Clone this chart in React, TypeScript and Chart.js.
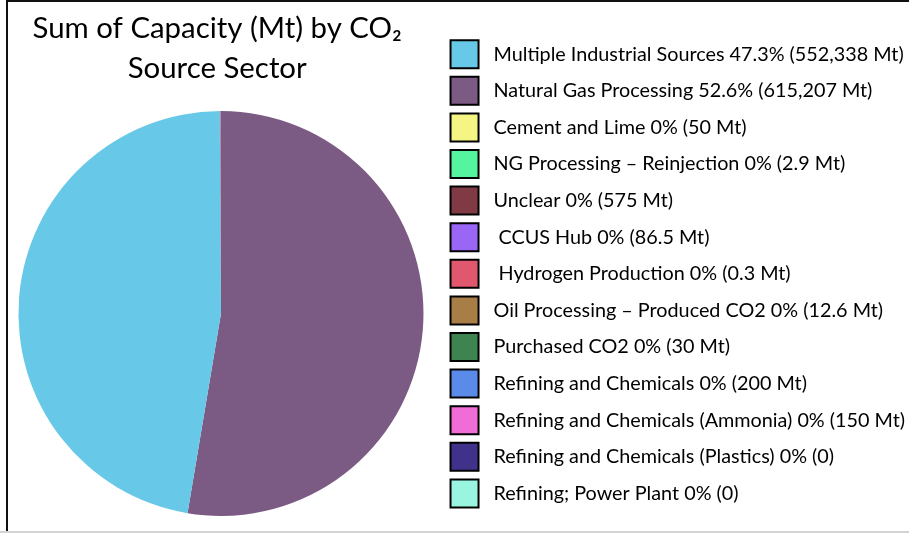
import React, { useEffect, useRef } from "react";
import { Chart, registerables } from "chart.js";

Chart.register(...registerables);

// ---- Data (legend order) ----
const categories = [
  "Multiple Industrial Sources",
  "Natural Gas Processing",
  "Cement and Lime",
  "NG Processing – Reinjection",
  "Unclear",
  " CCUS Hub",
  " Hydrogen Production",
  "Oil Processing – Produced CO2",
  "Purchased CO2",
  "Refining and Chemicals",
  "Refining and Chemicals (Ammonia)",
  "Refining and Chemicals (Plastics)",
  "Refining; Power Plant",
];
const capacityMt = [552338, 615207, 50, 2.9, 575, 86.5, 0.3, 12.6, 30, 200, 150, 0, 0];
const sliceColors = [
  "#67C8E8",
  "#7B5A84",
  "#F5F583",
  "#55F5A0",
  "#7F3A44",
  "#9966F5",
  "#E0586E",
  "#A87D46",
  "#3E8450",
  "#5B8BE8",
  "#F06DD8",
  "#40318A",
  "#99F5DF",
];
// order in which slices are drawn clockwise from the top
const pieOrder = [1, 0, 2, 3, 4, 5, 6, 7, 8, 9, 10, 11, 12];
const titleLines = ["Sum of Capacity (Mt) by CO₂ ", "Source Sector "];

const FONT = "Lato, 'Open Sans', sans-serif";

function pctText(v: number, total: number) {
  const p = Math.round((v / total) * 1000) / 10;
  return p + "%";
}
function valText(v: number) {
  return v === 0 ? "0" : v.toLocaleString("en-US") + " Mt";
}

// The legend is wide: negative left padding lets it take the width it needs,
// then the plot area (pie + title) is brought back to start at x = 0.
const areaFix = {
  id: "areaFix",
  afterLayout(chart: any) {
    const ca = chart.chartArea;
    ca.left = 0;
    ca.width = ca.right - ca.left;
    const t = chart.titleBlock;
    if (t) {
      t.left = 0;
      t.width = t.right - t.left;
    }
  },
};

export default function App() {
  const ref = useRef<HTMLCanvasElement | null>(null);
  useEffect(() => {
    document.body.style.margin = "0";
    if (!ref.current) return;
    const total = capacityMt.reduce((a, b) => a + b, 0);
    const chart = new Chart(ref.current, {
      type: "pie",
      data: {
        labels: pieOrder.map((i) => categories[i]),
        datasets: [
          {
            data: pieOrder.map((i) => capacityMt[i]),
            backgroundColor: pieOrder.map((i) => sliceColors[i]),
            borderWidth: 0,
          },
        ],
      },
      plugins: [areaFix],
      options: {
        responsive: false,
        animation: false,
        events: [],
        layout: { padding: { left: -40, right: -6, top: 0, bottom: 17 } },
        plugins: {
          tooltip: { enabled: false },
          title: {
            display: true,
            text: titleLines,
            fullSize: false,
            color: "#000",
            font: { family: FONT, size: 29.4, weight: "normal", lineHeight: 40 / 29.4 },
            padding: { top: 9, bottom: 22 },
          },
          legend: {
            position: "right",
            align: "end",
            labels: {
              boxWidth: 28,
              boxHeight: 28,
              padding: 8.6,
              color: "#000",
              font: { family: FONT, size: 19.8 },
              generateLabels: () =>
                categories.map((name, k) => ({
                  text: " " + name + " " + pctText(capacityMt[k], total) + " (" + valText(capacityMt[k]) + ")",
                  fillStyle: sliceColors[k],
                  strokeStyle: "#000",
                  lineWidth: 2,
                  hidden: false,
                  index: pieOrder.indexOf(k),
                  fontColor: "#000",
                })),
            },
          },
        },
      },
    });
    return () => chart.destroy();
  }, []);

  return (
    <div style={{ position: "relative", width: 909, height: 533, background: "#fff" }}>
      <canvas ref={ref} width={909} height={533} style={{ display: "block" }} />
      <div style={{ position: "absolute", left: 6, top: 0, width: 2, height: 531, background: "#111" }} />
      <div style={{ position: "absolute", left: 6, top: 0, width: 903, height: 2, background: "#111" }} />
      <div style={{ position: "absolute", left: 0, top: 531, width: 909, height: 2, background: "#d4d4d4" }} />
    </div>
  );
}
